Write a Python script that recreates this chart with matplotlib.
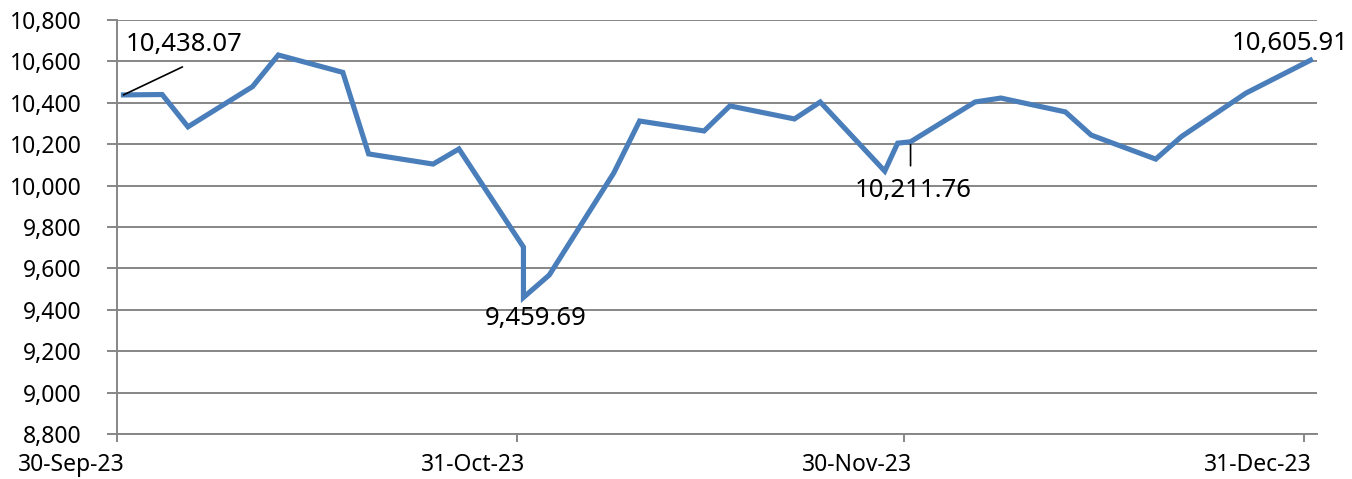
import numpy as np
import pandas as pd
import matplotlib
matplotlib.use('Agg')
import matplotlib.pyplot as plt
import matplotlib.transforms as mtrans
from matplotlib.ticker import FuncFormatter

dates = ['2023-09-30', '2023-10-03', '2023-10-05', '2023-10-10', '2023-10-12',
         '2023-10-17', '2023-10-19', '2023-10-24', '2023-10-26', '2023-10-31',
         '2023-10-31', '2023-11-02', '2023-11-07', '2023-11-09', '2023-11-14',
         '2023-11-16', '2023-11-21', '2023-11-23', '2023-11-28', '2023-11-29',
         '2023-11-30', '2023-12-05', '2023-12-07', '2023-12-12', '2023-12-14',
         '2023-12-19', '2023-12-21', '2023-12-26', '2023-12-31']
values = [10438.07, 10440, 10284, 10478, 10631,
          10547, 10153, 10104, 10177, 9703,
          9459.69, 9568, 10061, 10312, 10264,
          10385, 10322, 10404, 10070, 10205,
          10211.76, 10404, 10423, 10356, 10244,
          10128, 10237, 10447, 10605.91]

tick_dates = ['2023-09-30', '2023-10-31', '2023-11-30', '2023-12-31']
labelled = [0, 10, 20, 28]

plt.rcParams['font.family'] = ['Noto Sans', 'DejaVu Sans']

# points sit in the middle of their day, like a date axis in a spreadsheet
x = pd.to_datetime(dates) + pd.Timedelta(hours=12)
y = np.array(values)

fig = plt.figure(figsize=(13.52, 4.79), dpi=100)
ax = fig.add_axes([117/1352, 45/479, 1200/1352, 414/479])

grey = '#868686'
ax.plot(x, y, color='#4A7EBB', lw=3.7, solid_joinstyle='miter', zorder=3)

ax.set_ylim(8800, 10800)
ax.set_yticks(np.arange(8800, 10801, 200))
ax.yaxis.set_major_formatter(FuncFormatter(lambda v, p: '{:,.0f}'.format(v)))
ax.grid(axis='y', color=grey, lw=1.4)
ax.set_axisbelow(True)

ax.set_xlim(pd.Timestamp('2023-09-30'), pd.Timestamp('2024-01-01'))
ax.set_xticks(pd.to_datetime(tick_dates))
ax.set_xticklabels([pd.Timestamp(d).strftime('%d-%b-%y') for d in tick_dates],
                   ha='right')

for s in ['top', 'right']:
    ax.spines[s].set_visible(False)
for s in ['left', 'bottom']:
    ax.spines[s].set_color(grey)
    ax.spines[s].set_linewidth(1.4)

ax.tick_params(axis='y', length=7.2, width=1.4, color=grey, labelsize=16.5, pad=18)
ax.tick_params(axis='x', length=5.8, width=1.4, color=grey, labelsize=16.5, pad=8)

# shift the date labels so they end just past the tick, as in the original
off = mtrans.ScaledTranslation(8/100, 0, fig.dpi_scale_trans)
for lab in ax.get_xticklabels():
    lab.set_transform(lab.get_transform() + off)

fmt = lambda v: '{:,.2f}'.format(v)
text_off = [(61, 50), (12, -21), (3, -49), (-20, 17)]
for i, (dx, dy) in zip(labelled, text_off):
    ax.annotate(fmt(values[i]), (x[i], y[i]), xytext=(dx, dy),
                textcoords='offset pixels', ha='center', va='center',
                fontsize=18.5, color='black', annotation_clip=False)

# leader lines
ax.annotate('', (x[0], y[0]), xytext=(59, 28), textcoords='offset pixels',
            arrowprops=dict(arrowstyle='-', color='black', lw=1.2,
                            shrinkA=0, shrinkB=0))
ax.annotate('', (x[20], y[20]), xytext=(0, -24), textcoords='offset pixels',
            arrowprops=dict(arrowstyle='-', color='black', lw=1.2,
                            shrinkA=0, shrinkB=2))

fig.savefig('out.png', dpi=100)
